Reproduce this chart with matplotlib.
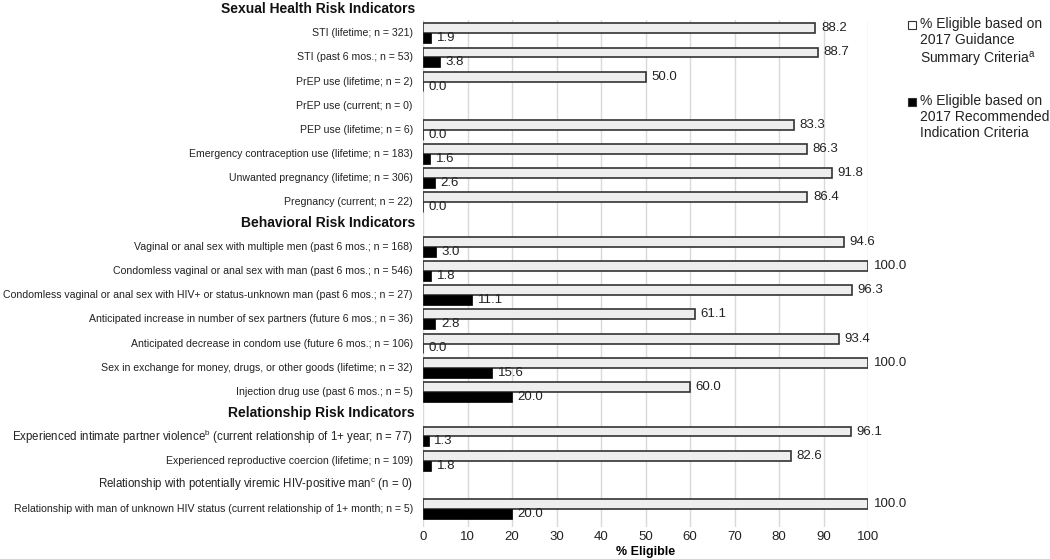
import numpy as np
import matplotlib.pyplot as plt
from matplotlib.lines import Line2D

plt.rcParams['font.family'] = ['Liberation Sans', 'DejaVu Sans']
plt.rcParams['mathtext.fontset'] = 'custom'
plt.rcParams['mathtext.rm'] = 'Liberation Sans'
plt.rcParams['mathtext.it'] = 'Liberation Sans'

# group headers and row labels
groups = ["Sexual Health Risk Indicators",
          "Behavioral Risk Indicators",
          "Relationship Risk Indicators"]

labels_sexual = ["STI (lifetime; n = 321)",
                 "STI (past 6 mos.; n = 53)",
                 "PrEP use (lifetime; n = 2)",
                 "PrEP use (current; n = 0)",
                 "PEP use (lifetime; n = 6)",
                 "Emergency contraception use (lifetime; n = 183)",
                 "Unwanted pregnancy (lifetime; n = 306)",
                 "Pregnancy (current; n = 22)"]
labels_behav = ["Vaginal or anal sex with multiple men (past 6 mos.; n = 168)",
                "Condomless vaginal or anal sex with man (past 6 mos.; n = 546)",
                "Condomless vaginal or anal sex with HIV+ or status-unknown man (past 6 mos.; n = 27)",
                "Anticipated increase in number of sex partners (future 6 mos.; n = 36)",
                "Anticipated decrease in condom use (future 6 mos.; n = 106)",
                "Sex in exchange for money, drugs, or other goods (lifetime; n = 32)",
                "Injection drug use (past 6 mos.; n = 5)"]
labels_rel = ["Experienced intimate partner violence$^\\mathrm{b}$ (current relationship of 1+ year; n = 77)",
              "Experienced reproductive coercion (lifetime; n = 109)",
              "Relationship with potentially viremic HIV-positive man$^\\mathrm{c}$ (n = 0)",
              "Relationship with man of unknown HIV status (current relationship of 1+ month; n = 5)"]

# % eligible (None = no participants)
guid_sexual = [88.2, 88.7, 50.0, None, 83.3, 86.3, 91.8, 86.4]
rec_sexual = [1.9, 3.8, 0.0, None, 0.0, 1.6, 2.6, 0.0]
guid_behav = [94.6, 100.0, 96.3, 61.1, 93.4, 100.0, 60.0]
rec_behav = [3.0, 1.8, 11.1, 2.8, 0.0, 15.6, 20.0]
guid_rel = [96.1, 82.6, None, 100.0]
rec_rel = [1.3, 1.8, None, 20.0]

legend_labels = ["% Eligible based on\n2017 Guidance\nSummary Criteria$^\\mathrm{a}$",
                 "% Eligible based on\n2017 Recommended\nIndication Criteria"]

big_labels = [labels_rel[0], labels_rel[2]]

W, H = 1050, 559
fig = plt.figure(figsize=(W / 100, H / 100), dpi=100)
ax = fig.add_axes([423 / W, 1 - 527 / H, 445 / W, 507 / H])

gap = 1.85
h = 0.41
all_labels = []
header_pos = []
pos = 0.0
ypos = []
guid = []
rec = []
for gi, (labs, g, r) in enumerate([(labels_sexual, guid_sexual, rec_sexual),
                                   (labels_behav, guid_behav, rec_behav),
                                   (labels_rel, guid_rel, rec_rel)]):
    if gi > 0:
        pos += gap - 1
    header_pos.append(pos - 1.0 if gi == 0 else pos - 0.98)
    for lab, gv, rv in zip(labs, g, r):
        ypos.append(pos)
        all_labels.append(lab)
        guid.append(gv)
        rec.append(rv)
        pos += 1

for y, gv, rv in zip(ypos, guid, rec):
    if gv is None:
        continue
    ax.barh(y - h / 2, gv, height=h, color='#eeeeee', edgecolor='#333333',
            linewidth=1.2, zorder=3)
    ax.barh(y + h / 2, rv, height=h, color='black', edgecolor='black',
            linewidth=0.5, zorder=3)
    ax.annotate(f"{gv:.1f}", (gv, y - h / 2), xytext=(4, 0), textcoords='offset points',
                va='center', ha='left', fontsize=9.5, color='#222222')
    ax.annotate(f"{rv:.1f}", (rv, y + h / 2), xytext=(4, 0), textcoords='offset points',
                va='center', ha='left', fontsize=9.5, color='#222222')

ax.set_xlim(0, 100)
ax.set_ylim(20.45, -0.55)
ax.set_xticks(np.arange(0, 101, 10))
ax.tick_params(axis='x', length=0, labelsize=9.5, colors='#222222', pad=3)
ax.set_yticks([])
ax.grid(axis='x', color='#d9d9d9', linewidth=1, zorder=0)
for s in ax.spines.values():
    s.set_visible(False)
ax.set_xlabel("% Eligible", fontsize=9, fontweight='bold', labelpad=2)

for y, lab in zip(ypos, all_labels):
    fs = 8.3 if lab in big_labels else 7.6
    ax.text(-0.023, y, lab, transform=ax.get_yaxis_transform(), ha='right', va='center',
            fontsize=fs, color='#222222')

for y, g in zip(header_pos, groups):
    ax.text(-0.018, y, g, transform=ax.get_yaxis_transform(), ha='right', va='center',
            fontsize=10, fontweight='bold', color='#111111', clip_on=False)

# legend drawn by hand so the square sits on the first text line
for (ytop, ymark), lab, fc in zip([(17, 25), (94, 102)], legend_labels, ['white', 'black']):
    fig.add_artist(Line2D([912 / W], [1 - ymark / H], marker='s', linestyle='none',
                          markerfacecolor=fc, markeredgecolor='#333333', markersize=5.5,
                          markeredgewidth=0.8, transform=fig.transFigure))
    fig.text(920 / W, 1 - ytop / H, lab, ha='left', va='top', fontsize=10,
             color='#222222', linespacing=1.2)

fig.savefig("out.png", dpi=100)
